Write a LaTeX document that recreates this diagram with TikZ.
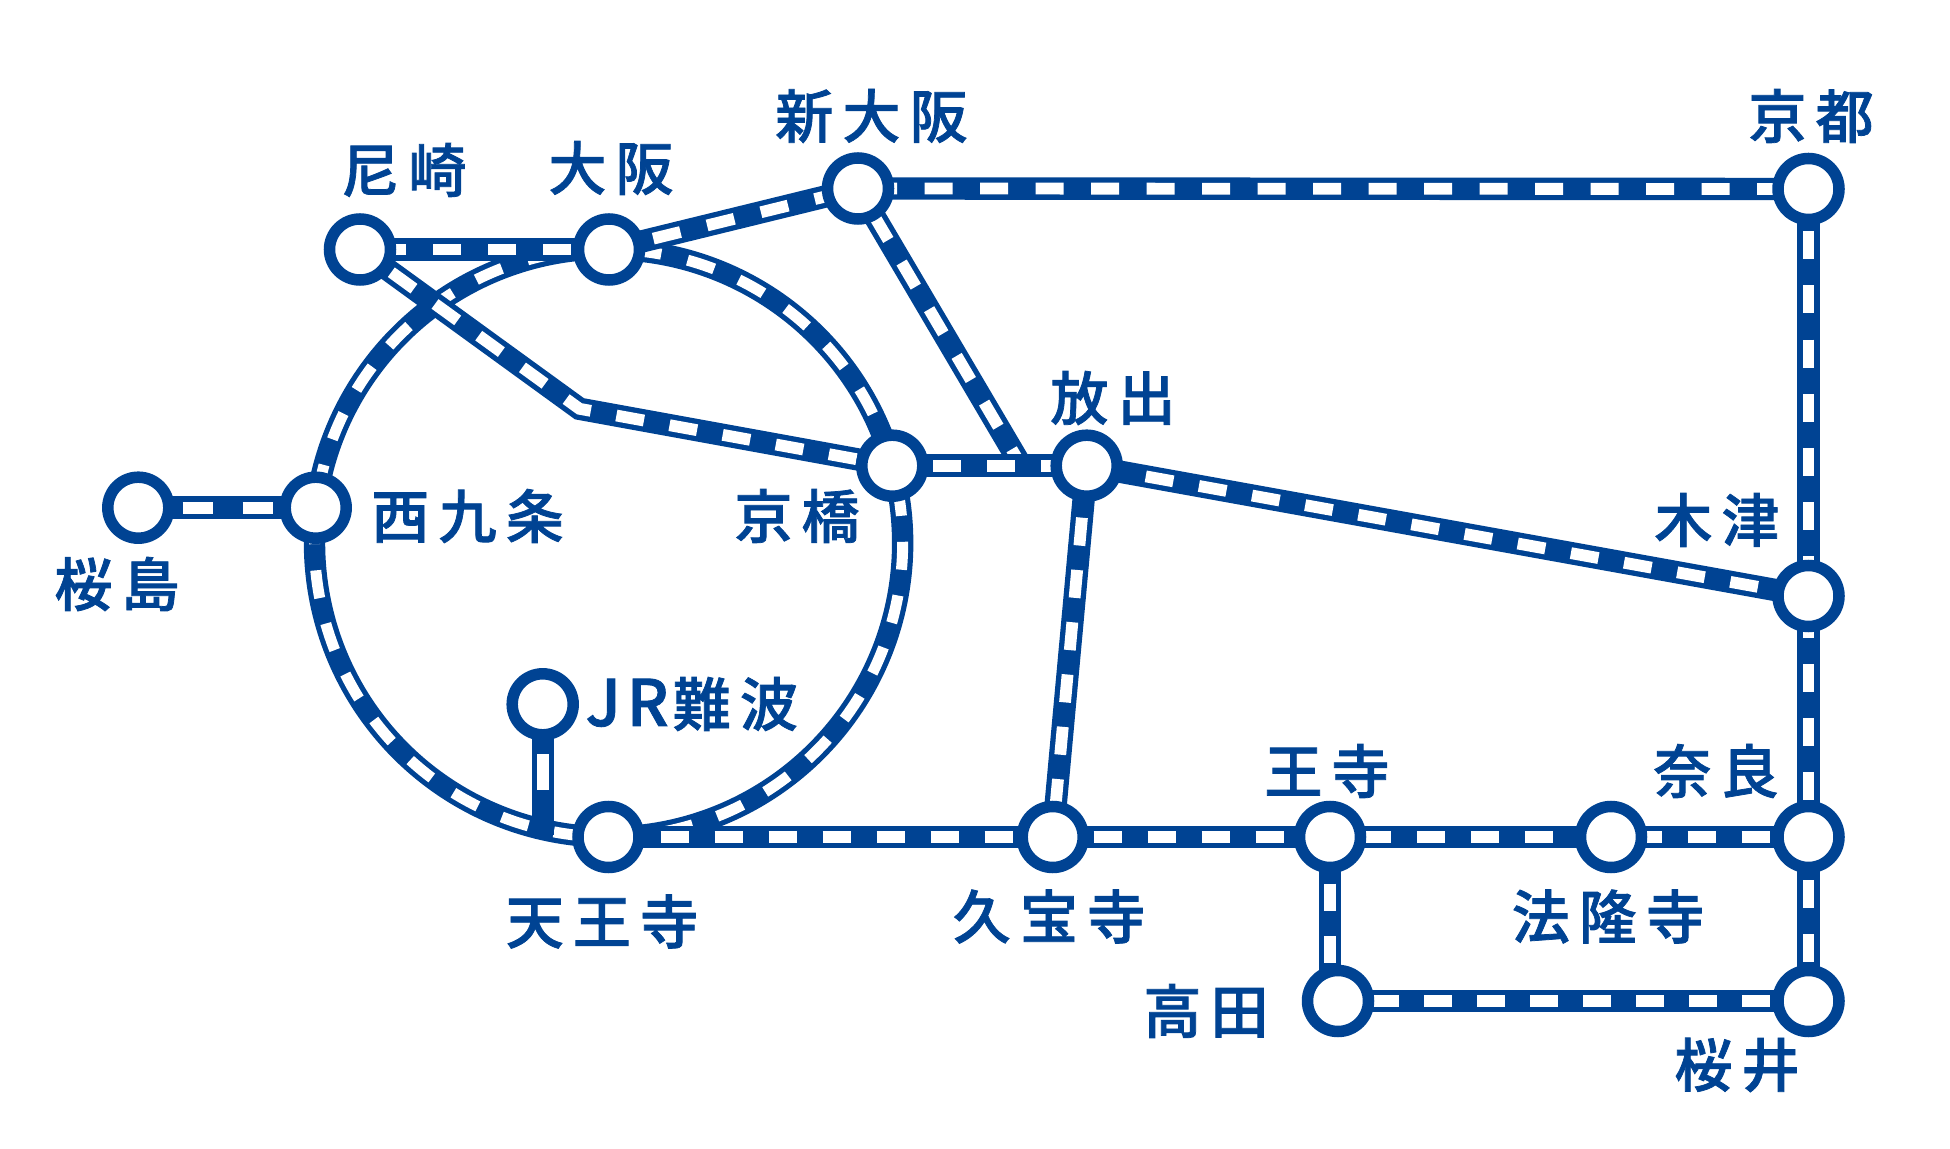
\documentclass[tikz,border=0pt]{standalone}
\usepackage{fontspec}
\setmainfont{Noto Sans CJK JP Medium}[FakeBold=1.3]
\definecolor{tblue}{RGB}{0,67,147}
\newdimen\pxu \pxu=0.5pt
\pgfdeclarelayer{bg}
\pgfsetlayers{bg,main}
\newcommand{\kk}{\kern4.6pt }
\tikzset{
  station/.style={circle,draw=tblue,fill=white,line width=5.75pt,minimum size=30.5pt,inner sep=0pt},
  lbl/.style={text=tblue,font=\fontsize{29}{29}\selectfont,inner sep=0pt},
  cut/.style={shorten <=-3pt,shorten >=-3pt},
  track/.style n args={3}{draw=tblue,line width=11.2pt,
    postaction={draw=white,line width=5.9pt,dash pattern=on #2\pxu off #3\pxu,dash phase=#1\pxu}},
  ring/.style n args={3}{draw=tblue,line width=10.7pt,
    postaction={draw=white,line width=5.5pt,dash pattern=on #2\pxu off #3\pxu,dash phase=#1\pxu}},
}
\begin{document}
\begin{tikzpicture}[x=0.5pt,y=-0.5pt]
\useasboundingbox (0,0) rectangle (1950,1149);
% stations
\node[station] (am) at (360,249.5) {};
\node[station] (os) at (609,249.5) {};
\node[station] (sh) at (858,188.5) {};
\node[station] (ky) at (1808.5,189) {};
\node[station] (ha) at (1086.7,465.7) {};
\node[station] (kb) at (892.3,465.7) {};
\node[station] (ni) at (315.7,507.7) {};
\node[station] (sa) at (138.3,507.7) {};
\node[station] (na) at (542.7,704.3) {};
\node[station] (te) at (608.5,837) {};
\node[station] (ku) at (1052.7,837) {};
\node[station] (oj) at (1330,837) {};
\node[station] (ho) at (1611,837) {};
\node[station] (nr) at (1808.5,837) {};
\node[station] (ta) at (1338,1001) {};
\node[station] (si) at (1808.5,1001) {};
\node[station] (kz) at (1808.5,596) {};
\coordinate (bend) at (579.5,408.8);
\coordinate (jct) at (1021.5,466);
\coordinate (nae) at (542.7,829);
% labels
\node[lbl] (lsh) at (871.5,116) {新\kk 大\kk 阪};
\node[lbl] (lky) at (1811,116) {京\kk 都};
\node[lbl] (lam) at (404,170) {尼\kk 崎};
\node[lbl] (los) at (611,168) {大\kk 阪};
\node[lbl] (lha) at (1113,398) {放\kk 出};
\node[lbl] (lni) at (467.6,516) {西\kk 九\kk 条};
\node[lbl] (lkb) at (797,516) {京\kk 橋};
\node[lbl] (lkz) at (1717,520) {木\kk 津};
\node[lbl] (lsa) at (117,584) {桜\kk 島};
\node[lbl] (lna) at (691.8,704) {{\fontsize{32}{32}\selectfont J\kern3pt R}\kern2pt 難\kk 波};
\node[lbl] (lnr) at (1716,771) {奈\kk 良};
\node[lbl] (loj) at (1327,771) {王\kk 寺};
\node[lbl] (lte) at (602,921.5) {天\kk 王\kk 寺};
\node[lbl] (lku) at (1049,916.5) {久\kk 宝\kk 寺};
\node[lbl] (lho) at (1608,916.5) {法\kk 隆\kk 寺};
\node[lbl] (lta) at (1206,1011) {高\kk 田};
\node[lbl] (lsi) at (1737,1065) {桜\kk 井};
\begin{pgfonlayer}{bg}
% loop line
\draw[ring={30.5}{28}{27}] (os.center) arc[start angle=90,end angle=15.26,radius=147pt];
\draw[ring={31}{28}{26}] (kb.center) arc[start angle=15.26,end angle=-90,radius=147pt];
\draw[ring={27.2}{28}{26.2}] (te.center) arc[start angle=-90,end angle=-186.86,radius=147pt];
\draw[ring={39.4}{28}{27}] (ni.center) arc[start angle=173.14,end angle=90,radius=147pt];
% other lines
\draw[track={52.75}{28}{26.2},cut] (sh) -- (jct);
\draw[track={12.25}{28}{27},cut] (am) -- (os);
\draw[track={40.05}{28}{27.4},cut] (os) -- (sh);
\draw[track={19.25}{28}{27.5},cut] (sh) -- (ky);
\draw[track={42.25}{28}{26.2},cut] (ky) -- (kz);
\draw[track={16.65}{28}{26.2},cut] (kz) -- (nr);
\draw[track={24.25}{28}{26},cut] (ha) -- (kz);
\draw[track={43.25}{28}{26},cut] (kb) -- (ha);
\draw[track={30.55}{28}{24.5},cut] (ha) -- (ku);
\draw[track={43.45}{28}{26},cut] (ku) -- (oj);
\draw[track={32.25}{28}{26},cut] (te) -- (ku);
\draw[track={51.45}{28}{26},cut] (oj) -- (ho);
\draw[track={7.65}{28}{26},cut] (ho) -- (nr);
\draw[track={40.95}{28}{26},cut] (nr) -- (si);
\draw[track={49.95}{28}{25},cut] (ta) -- (si);
\draw[track={35.85}{27}{25.3},cut] (oj) -- (oj |- ta);
\draw[track={116.25}{36}{100},cut] (na) -- (nae);
\draw[track={45.85}{30.6}{29.4},cut] (sa) -- (ni);
\draw[track={45.55}{28}{26},cut] (am) -- (bend) -- (kb);
\end{pgfonlayer}
\end{tikzpicture}
\end{document}
